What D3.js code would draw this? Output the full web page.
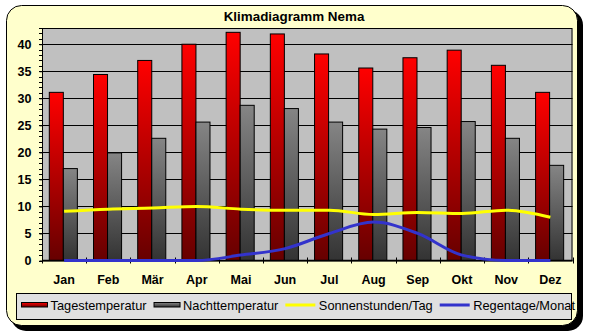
<!DOCTYPE html>
<html>
<head>
<meta charset="utf-8">
<script src="https://cdn.jsdelivr.net/npm/d3@7"></script>
<style>
  html, body { margin: 0; padding: 0; background: #ffffff; }
  svg { display: block; font-family: "Liberation Sans", Arial, sans-serif; }
</style>
</head>
<body>
<svg id="chart" width="589" height="336"></svg>
<script>
// Klimadiagramm Nema – monthly climate values
const months = ["Jan", "Feb", "Mär", "Apr", "Mai", "Jun", "Jul", "Aug", "Sep", "Okt", "Nov", "Dez"];
const tagestemperatur = [31.1, 34.4, 37.0, 40.0, 42.2, 41.9, 38.2, 35.6, 37.5, 38.9, 36.1, 31.1];
const nachttemperatur = [17.0, 19.9, 22.6, 25.6, 28.7, 28.1, 25.6, 24.3, 24.6, 25.7, 22.6, 17.6];
const sonnenstunden = [9.1, 9.5, 9.7, 10.0, 9.5, 9.3, 9.3, 8.5, 8.9, 8.7, 9.3, 8.0];
const regentage = [0, 0, 0, 0, 1.0, 2.2, 5.0, 7.1, 5.0, 1.0, 0, 0];
const yTicks = [0, 5, 10, 15, 20, 25, 30, 35, 40];
const legendLabels = ["Tagestemperatur", "Nachttemperatur", "Sonnenstunden/Tag", "Regentage/Monat"];

const svg = d3.select("#chart");
const defs = svg.append("defs");

// vertical gradients for the bars
const gRed = defs.append("linearGradient").attr("id", "gradRed")
  .attr("x1", 0).attr("y1", 0).attr("x2", 0).attr("y2", 1);
gRed.append("stop").attr("offset", "0%").attr("stop-color", "#ff0000");
gRed.append("stop").attr("offset", "100%").attr("stop-color", "#660000");
const gGray = defs.append("linearGradient").attr("id", "gradGray")
  .attr("x1", 0).attr("y1", 0).attr("x2", 0).attr("y2", 1);
gGray.append("stop").attr("offset", "0%").attr("stop-color", "#858585");
gGray.append("stop").attr("offset", "100%").attr("stop-color", "#333333");

// chart frame with drop shadow
svg.append("rect").attr("x", 11).attr("y", 10).attr("width", 572).attr("height", 321)
  .attr("rx", 15).attr("fill", "#000");
svg.append("rect").attr("x", 6.5).attr("y", 5.5).attr("width", 571).attr("height", 320)
  .attr("rx", 15).attr("fill", "#ffffcc").attr("stroke", "#000").attr("stroke-width", 1);

// title
svg.append("text").attr("x", 294).attr("y", 21).attr("text-anchor", "middle")
  .attr("font-weight", "bold").attr("font-size", "13.4px").attr("fill", "#000")
  .text("Klimadiagramm Nema");

// plot area
const plot = { left: 42, right: 572.5, top: 28, bottom: 260.5 };
const x = d3.scaleBand().domain(months).range([plot.left, plot.right]).padding(0);
const xSub = d3.scaleBand().domain(["tag", "nacht"])
  .range([x.bandwidth() * 0.165, x.bandwidth() * 0.8]).padding(0);
const y = d3.scaleLinear().domain([0, 43]).range([plot.bottom, plot.top]);

svg.append("rect").attr("x", plot.left).attr("y", plot.top)
  .attr("width", plot.right - plot.left).attr("height", plot.bottom - plot.top)
  .attr("fill", "#c0c0c0");

// horizontal grid lines
svg.append("g").selectAll("line").data(yTicks.filter(d => d > 0)).join("line")
  .attr("x1", plot.left).attr("x2", plot.right)
  .attr("y1", d => Math.round(y(d)) + 0.5).attr("y2", d => Math.round(y(d)) + 0.5)
  .attr("stroke", "#000").attr("stroke-width", 1);

// plot border
svg.append("rect").attr("x", plot.left + 0.5).attr("y", plot.top + 0.5)
  .attr("width", plot.right - plot.left - 1).attr("height", plot.bottom - plot.top)
  .attr("fill", "none").attr("stroke", "#000").attr("stroke-width", 1);

// bars
const groups = svg.append("g").selectAll("g").data(months).join("g")
  .attr("transform", d => `translate(${x(d)},0)`);
groups.append("rect")
  .attr("x", xSub("tag")).attr("width", xSub.bandwidth())
  .attr("y", (d, i) => y(tagestemperatur[i]))
  .attr("height", (d, i) => y(0) - y(tagestemperatur[i]))
  .attr("fill", "url(#gradRed)").attr("stroke", "#000").attr("stroke-width", 1);
groups.append("rect")
  .attr("x", xSub("nacht")).attr("width", xSub.bandwidth())
  .attr("y", (d, i) => y(nachttemperatur[i]))
  .attr("height", (d, i) => y(0) - y(nachttemperatur[i]))
  .attr("fill", "url(#gradGray)").attr("stroke", "#000").attr("stroke-width", 1);

// y axis with minor ticks at every unit
const yAxis = d3.axisLeft(y).tickValues(yTicks).tickSize(3).tickPadding(8);
const yg = svg.append("g").attr("transform", `translate(${plot.left + 0.5},0)`).call(yAxis);
yg.select(".domain").attr("stroke", "#000").attr("d", `M0,${plot.top}V${plot.bottom}`);
yg.selectAll("text").attr("font-size", "12.5px").attr("font-weight", "bold")
  .attr("font-family", "Liberation Sans, Arial, sans-serif").attr("fill", "#000");
svg.append("g").selectAll("line").data(d3.range(0, 44)).join("line")
  .attr("x1", plot.left - 3).attr("x2", plot.left)
  .attr("y1", d => Math.round(y(d)) + 0.5).attr("y2", d => Math.round(y(d)) + 0.5)
  .attr("stroke", "#000");

// x axis: baseline, crossing ticks at category boundaries, labels
svg.append("line").attr("x1", plot.left).attr("x2", plot.right)
  .attr("y1", plot.bottom).attr("y2", plot.bottom)
  .attr("stroke", "#000").attr("stroke-width", 1.5);
const xAxis = d3.axisBottom(x).tickSize(0).tickPadding(15);
const xg = svg.append("g").attr("transform", `translate(0,${plot.bottom})`).call(xAxis);
xg.select(".domain").remove();
xg.selectAll("text").attr("font-size", "12.5px").attr("font-weight", "bold")
  .attr("font-family", "Liberation Sans, Arial, sans-serif").attr("fill", "#000");
svg.append("g").selectAll("line").data(months.concat(["end"])).join("line")
  .attr("x1", (d, i) => Math.round(plot.left + i * x.bandwidth()) + 0.5)
  .attr("x2", (d, i) => Math.round(plot.left + i * x.bandwidth()) + 0.5)
  .attr("y1", plot.bottom - 3).attr("y2", plot.bottom + 3)
  .attr("stroke", "#000");

// lines
const cx = d => x(d) + x.bandwidth() / 2;
const lineSun = d3.line().x((d, i) => cx(months[i])).y(d => y(d)).curve(d3.curveMonotoneX);
svg.append("path").datum(sonnenstunden).attr("d", lineSun)
  .attr("fill", "none").attr("stroke", "#ffff00").attr("stroke-width", 3);
svg.append("path").datum(regentage).attr("d", lineSun)
  .attr("fill", "none").attr("stroke", "#3333cc").attr("stroke-width", 3);

// legend
svg.append("rect").attr("x", 16.5).attr("y", 293.5).attr("width", 555).attr("height", 26)
  .attr("fill", "#e0e0e0").attr("stroke", "#000").attr("stroke-width", 1);
const legendStyles = [
  { type: "rect", fill: "url(#gradRed)" },
  { type: "rect", fill: "url(#gradGray)" },
  { type: "line", stroke: "#ffff00" },
  { type: "line", stroke: "#3333cc" }
];
let lx = 21;
legendLabels.forEach((label, i) => {
  const st = legendStyles[i];
  const sw = i < 2 ? 26 : 30;
  if (st.type === "rect") {
    svg.append("rect").attr("x", lx + 0.5).attr("y", 302.5).attr("width", sw).attr("height", 4.5)
      .attr("fill", st.fill).attr("stroke", "#000").attr("stroke-width", 1);
  } else {
    svg.append("line").attr("x1", lx).attr("x2", lx + sw).attr("y1", 305).attr("y2", 305)
      .attr("stroke", st.stroke).attr("stroke-width", 3);
  }
  const t = svg.append("text").attr("x", lx + sw + 3.5).attr("y", 310)
    .attr("font-size", "12.8px").attr("fill", "#000").text(label);
  lx = lx + sw + 3.5 + t.node().getComputedTextLength() + 7;
});
</script>
</body>
</html>
